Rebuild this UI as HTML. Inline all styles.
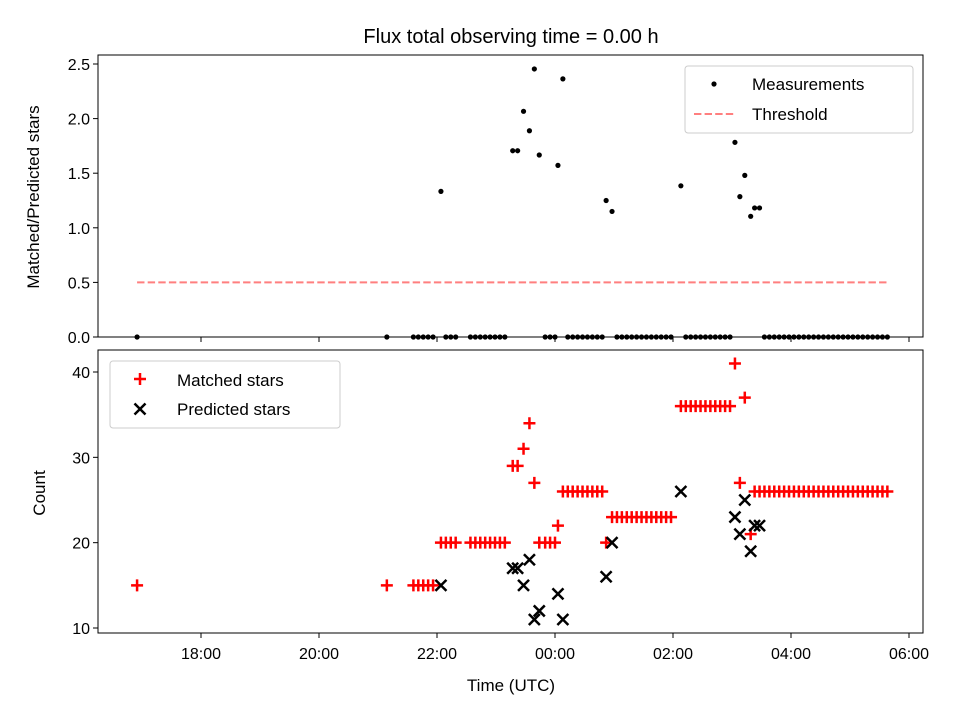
<!DOCTYPE html>
<html><head><meta charset="utf-8"><style>
body{margin:0;background:#fff}
svg{font-family:"Liberation Sans","DejaVu Sans",sans-serif}
</style></head><body>
<svg id="c" width="960" height="720" xmlns="http://www.w3.org/2000/svg" style="position:absolute;left:0;top:0">
<rect width="960" height="720" fill="#fff"/>
<text x="511" y="43" font-size="20" text-anchor="middle">Flux total observing time = 0.00 h</text>
<g id="topPanel"></g>
<g id="botPanel"></g>
<text x="511" y="691" font-size="17" text-anchor="middle">Time (UTC)</text>
<text transform="translate(39,197) rotate(-90)" font-size="17" text-anchor="middle">Matched/Predicted stars</text>
<text transform="translate(45,493) rotate(-90)" font-size="17" text-anchor="middle">Count</text>
<g>
<rect x="685" y="66" width="228" height="67" rx="3" fill="#fff" fill-opacity="0.8" stroke="#ccc"/>
<circle cx="714" cy="84" r="2.6" fill="#000"/>
<text x="752" y="90" font-size="17">Measurements</text>
<line x1="694" x2="734" y1="114" y2="114" stroke="#ff7f7f" stroke-width="2" stroke-dasharray="7.4,3.2"/>
<text x="752" y="120" font-size="17">Threshold</text>
</g>
<g>
<rect x="110" y="361" width="230" height="67" rx="3" fill="#fff" fill-opacity="0.8" stroke="#ccc"/>
<path d="M134,379H146M140,373V385" stroke="#f00" stroke-width="2.5"/>
<text x="177" y="386" font-size="17">Matched stars</text>
<path d="M134.5,403.5L145.5,414.5M134.5,414.5L145.5,403.5" stroke="#000" stroke-width="2.5"/>
<text x="177" y="415" font-size="17">Predicted stars</text>
</g>
</svg>
<script>
// minutes after 18:00 UTC
const times = [-65,189,216,221,226,231,236,244,249,254,259,274,279,284,289,294,299,304,309,317,322,328,334,339,344,350,355,360,363,368,373,378,383,388,393,398,403,408,412,418,423,428,433,438,443,448,453,458,463,468,473,478,488,493,498,503,508,513,518,523,528,533,538,543,548,553,559,563,568,573,578,583,588,593,598,603,608,613,618,623,628,633,638,643,648,653,658,663,668,673,678,683,688,693,698];
const matched = [15,15,15,15,15,15,15,20,20,20,20,20,20,20,20,20,20,20,20,29,29,31,34,27,20,20,20,20,22,26,26,26,26,26,26,26,26,26,20,23,23,23,23,23,23,23,23,23,23,23,23,23,36,36,36,36,36,36,36,36,36,36,36,41,27,37,21,26,26,26,26,26,26,26,26,26,26,26,26,26,26,26,26,26,26,26,26,26,26,26,26,26,26,26,26];
const predicted = [null,null,null,null,null,null,null,15,null,null,null,null,null,null,null,null,null,null,null,17,17,15,18,11,12,null,null,null,14,11,null,null,null,null,null,null,null,null,16,20,null,null,null,null,null,null,null,null,null,null,null,null,26,null,null,null,null,null,null,null,null,null,null,23,21,25,19,22,22];
const threshold = 0.5;
const xTicks = [0,120,240,360,480,600,720];
const xTickLabels = ["18:00","20:00","22:00","00:00","02:00","04:00","06:00"];
const topTicks = [0,0.5,1.0,1.5,2.0,2.5];
const botTicks = [10,20,30,40];

const NS="http://www.w3.org/2000/svg";
const L=98,R=923;
const xs=m=>201+m*59/60;
const yT=v=>337-v*109.2;
const yB=v=>628-(v-10)*256/30;
function mk(p,tag,a,txt){const e=document.createElementNS(NS,tag);for(const k in a)e.setAttribute(k,a[k]);if(txt!==undefined)e.textContent=txt;p.appendChild(e);return e;}
const gTop=document.getElementById('topPanel'),gBot=document.getElementById('botPanel');
const n=Math.min(times.length,matched.length);

let th=mk(gTop,'line',{x1:xs(times[0]),x2:xs(times[n-1]),y1:yT(threshold),y2:yT(threshold),stroke:'#ff7f7f','stroke-width':2,'stroke-dasharray':'7.4,3.2'});


for(let i=0;i<n;i++){
  const pr=predicted[i];
  const r=pr?matched[i]/pr:0;
  const c=mk(gTop,'circle',{cx:xs(times[i]),cy:yT(r),r:2.6,fill:'#000'});
  
  
}
for(let i=0;i<n;i++){
  const cx=xs(times[i]),cy=yB(matched[i]);
  const p=mk(gBot,'path',{d:`M${cx-6},${cy}H${cx+6}M${cx},${cy-6}V${cy+6}`,stroke:'#f00','stroke-width':2.5});
  
  
}
for(let i=0;i<n;i++){
  const pr=predicted[i];
  if(pr==null)continue;
  const cx=xs(times[i]),cy=yB(pr);
  const p=mk(gBot,'path',{d:`M${cx-5.5},${cy-5.5}L${cx+5.5},${cy+5.5}M${cx-5.5},${cy+5.5}L${cx+5.5},${cy-5.5}`,stroke:'#000','stroke-width':2.5});
  
  
}
let f1=mk(gTop,'rect',{x:L,y:55,width:R-L,height:282,fill:'none',stroke:'#000','stroke-width':1});


let f2=mk(gBot,'rect',{x:L,y:350,width:R-L,height:283,fill:'none',stroke:'#000','stroke-width':1});


xTicks.forEach((m,i)=>{
  mk(gTop,'line',{x1:xs(m),x2:xs(m),y1:337,y2:342,stroke:'#000'});
  mk(gBot,'line',{x1:xs(m),x2:xs(m),y1:633,y2:638,stroke:'#000'});
  const t=mk(gBot,'text',{x:xs(m),y:659,'font-size':16,'text-anchor':'middle'},xTickLabels[i]);
  
  
});
topTicks.forEach(v=>{
  mk(gTop,'line',{x1:L-5,x2:L,y1:yT(v),y2:yT(v),stroke:'#000'});
  const t=mk(gTop,'text',{x:L-8,y:yT(v)+6,'font-size':16,'text-anchor':'end'},v.toFixed(1));
  
  
});
botTicks.forEach(v=>{
  mk(gBot,'line',{x1:L-5,x2:L,y1:yB(v),y2:yB(v),stroke:'#000'});
  const t=mk(gBot,'text',{x:L-8,y:yB(v)+6,'font-size':16,'text-anchor':'end'},String(v));
  
  
});
</script>
</body></html>
